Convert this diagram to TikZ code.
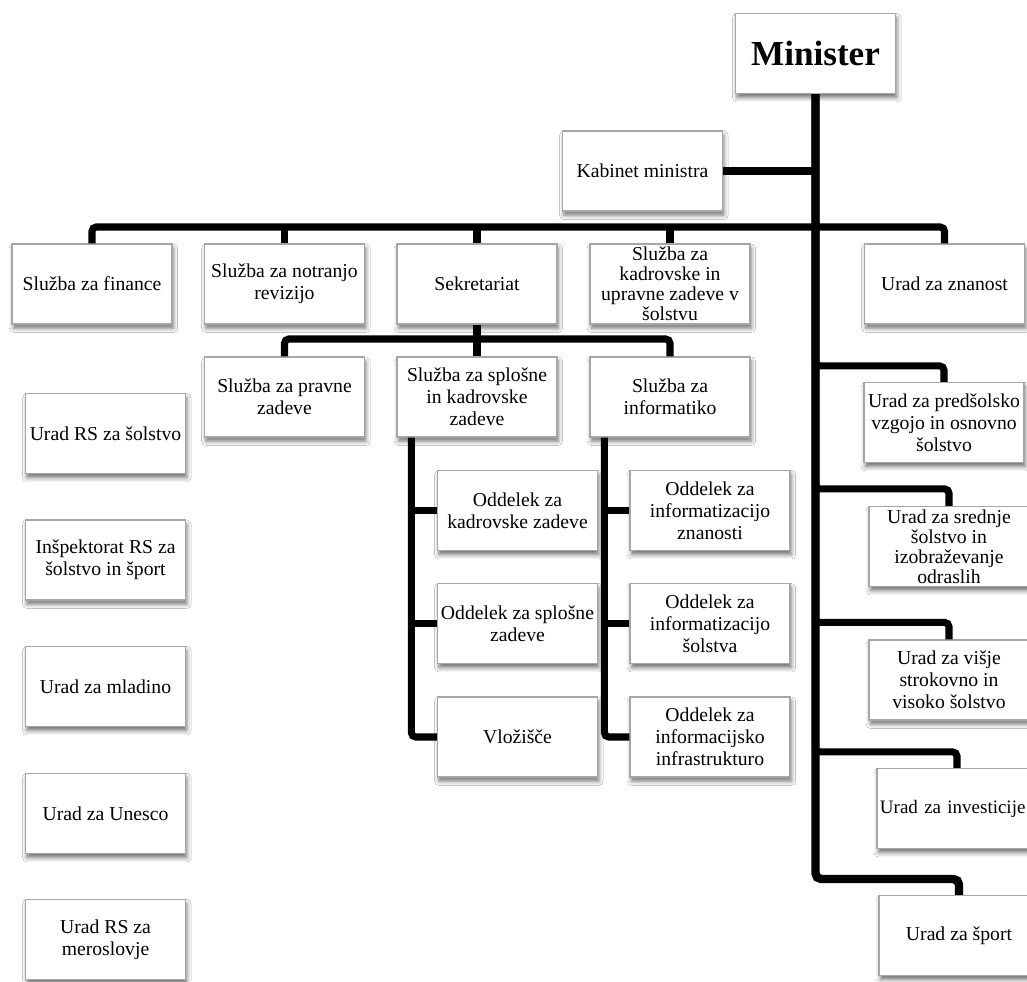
\documentclass[tikz,border=0pt]{standalone}
\usepackage{fontspec}
\setmainfont{Liberation Serif}
\usetikzlibrary{shadows.blur}
\usetikzlibrary{positioning}
\tikzset{x=0.025cm, y=-0.025cm, font=\fontsize{14}{15.6}\selectfont}
\tikzstyle{block} = [draw=gray!70, line width=0.8pt, fill=white, rectangle, minimum height=2cm, minimum width=4cm, inner sep=1pt, text centered, align=center, blur shadow={shadow xshift=1pt, shadow yshift=-3pt, shadow blur radius=3pt, shadow opacity=55}]
\tikzstyle{tight} = [inner ysep=0pt, font=\fontsize{14}{14.3}\selectfont]
\tikzstyle{link} = [draw, line width=5pt, rounded corners=3pt]
\tikzstyle{trunk} = [draw, line width=6pt, rounded corners=4pt]

\begin{document}
\begin{tikzpicture}
		\useasboundingbox (0,0) rectangle (1027,981);
		\clip (0,0) rectangle (1027,981);
		\fill [white] (0,0) rectangle (1027,981);

		\node [block, font=\fontsize{25}{28}\selectfont\bfseries] (minister) at (815.5,53.5) {Minister};
		\node [block] (kabinet) at (642.5,171) {Kabinet ministra};

		\node [block] (finance) at (92,284) {Služba za finance};
		\node [block] (revizija) at (284.5,284) {Služba za notranjo\\revizijo};
		\node [block] (sekretariat) at (477,284) {Sekretariat};
		\node [block, tight] (upravne) at (670,284) {Služba za\\kadrovske in\\upravne zadeve v\\šolstvu};
		\node [block] (znanost) at (944.5,284) {Urad za znanost};

		\node [block] (pravne) at (284.5,397) {Služba za pravne\\zadeve};
		\node [block] (splosne) at (477,397) {Služba za splošne\\in kadrovske\\zadeve};
		\node [block] (informatika) at (670,397) {Služba za\\informatiko};

		\node [block] (odd-kadrovske) at (517.5,510.5) {Oddelek za\\kadrovske zadeve};
		\node [block] (odd-splosne) at (517.5,623.5) {Oddelek za splošne\\zadeve};
		\node [block] (vlozisce) at (517.5,737) {Vložišče};
		\node [block] (odd-znanost) at (710,510.5) {Oddelek za\\informatizacijo\\znanosti};
		\node [block] (odd-solstvo) at (710,623.5) {Oddelek za\\informatizacijo\\šolstva};
		\node [block] (odd-infra) at (710,737) {Oddelek za\\informacijsko\\infrastrukturo};

		\node [block] (predsolsko) at (944,422.5) {Urad za predšolsko\\vzgojo in osnovno\\šolstvo};
		\node [block, tight] (srednje) at (949,546.5) {Urad za srednje\\šolstvo in\\izobraževanje\\odraslih};
		\node [block] (visje) at (949,680) {Urad za višje\\strokovno in\\visoko šolstvo};
		\node [block, text width=3.85cm, align=left, font=\fontsize{13.5}{15}\selectfont] (investicije) at (957,808.5) {Urad za investicije};
		\node [block] (sport) at (959,935.5) {Urad za šport};

		\node [block] (urad-solstvo) at (105.5,433.5) {Urad RS za šolstvo};
		\node [block] (inspektorat) at (105.5,560) {Inšpektorat RS za\\šolstvo in šport};
		\node [block] (mladino) at (105.5,686.5) {Urad za mladino};
		\node [block] (unesco) at (105.5,813.5) {Urad za Unesco};
		\node [block] (meroslovje) at (105.5,939.5) {Urad RS za\\meroslovje};

		\coordinate (top-bus) at (815,227);
		\coordinate (sek-bus) at (477,339);
		\coordinate (sport-bus) at (815,879);
		\coordinate (spine-l) at ([xshift=0.375cm]splosne.south west);
		\coordinate (spine-r) at ([xshift=0.375cm]informatika.south west);

		\draw [trunk] (minister.south) -- (minister.south |- sport-bus) -| (sport.north);
		\draw [link] (kabinet.east) -- (kabinet.east -| minister.south);
		\draw [link] (finance.north) |- (top-bus) -| (znanost.north);
		\draw [link] (revizija.north) -- (revizija.north |- top-bus);
		\draw [link] (sekretariat.north) -- (sekretariat.north |- top-bus);
		\draw [link] (upravne.north) -- (upravne.north |- top-bus);

		\draw [link] (sekretariat.south) -- (splosne.north);
		\draw [link] (pravne.north) |- (sek-bus) -| (informatika.north);

		\draw [link] (spine-l) |- (vlozisce.west);
		\draw [link] (odd-kadrovske.west) -- (odd-kadrovske.west -| spine-l);
		\draw [link] (odd-splosne.west) -- (odd-splosne.west -| spine-l);
		\draw [link] (spine-r) |- (odd-infra.west);
		\draw [link] (odd-znanost.west) -- (odd-znanost.west -| spine-r);
		\draw [link] (odd-solstvo.west) -- (odd-solstvo.west -| spine-r);

		\draw [link] (predsolsko.north) -- ++(0,-16) -| (minister.south);
		\draw [link] (srednje.north) -- ++(0,-17) -| (minister.south);
		\draw [link] (visje.north) -- ++(0,-17) -| (minister.south);
		\draw [link] (investicije.north) -- ++(0,-16) -| (minister.south);
	\end{tikzpicture}
\end{document}
